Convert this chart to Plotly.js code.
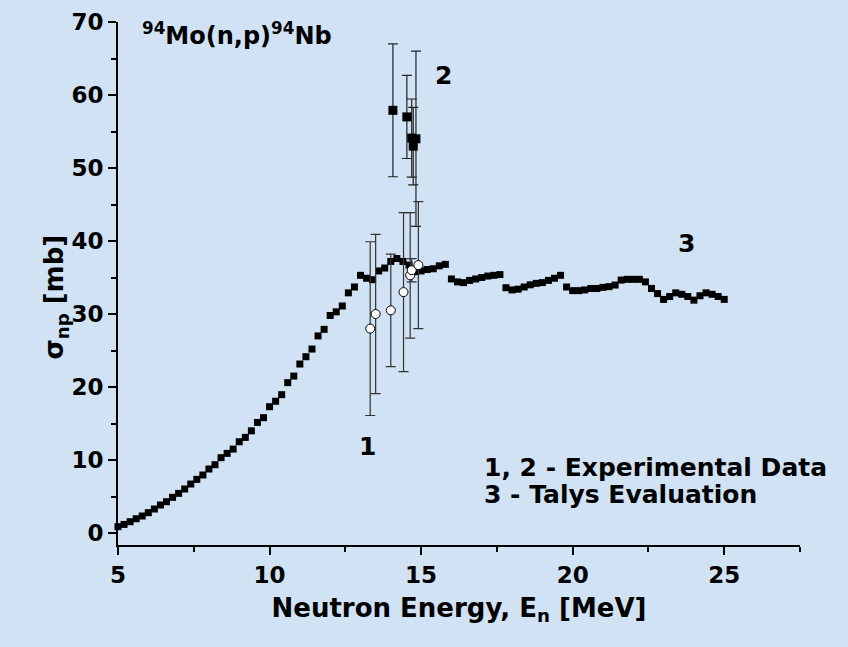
<!DOCTYPE html>
<html>
<head>
<meta charset="utf-8">
<script src="https://cdn.plot.ly/plotly-3.0.1.min.js"></script>
<style>html,body{margin:0;padding:0;background:#d0e2f3;}</style>
</head>
<body>
<div id="chart" style="width:848px;height:647px;"></div>
<script>
// Talys evaluation (curve 3)
const talysE = [5.0,5.2,5.4,5.6,5.8,6.0,6.2,6.4,6.6,6.8,7.0,7.2,7.4,7.6,7.8,8.0,8.2,8.4,8.6,8.8,
  9.0,9.2,9.4,9.6,9.8,10.0,10.2,10.4,10.6,10.8,11.0,11.2,11.4,11.6,11.8,12.0,12.2,12.4,12.6,12.8,
  13.0,13.2,13.4,13.6,13.8,14.0,14.2,14.4,14.6,14.8,15.0,15.2,15.4,15.6,15.8,16.0,16.2,16.4,16.6,16.8,
  17.0,17.2,17.4,17.6,17.8,18.0,18.2,18.4,18.6,18.8,19.0,19.2,19.4,19.6,19.8,20.0,20.2,20.4,20.6,20.8,
  21.0,21.2,21.4,21.6,21.8,22.0,22.2,22.4,22.6,22.8,23.0,23.2,23.4,23.6,23.8,24.0,24.2,24.4,24.6,24.8,25.0];
const talysSigma = [0.87,1.18,1.55,1.96,2.33,2.79,3.29,3.84,4.29,4.89,5.43,6.03,6.71,7.35,7.95,8.77,9.36,10.32,10.91,11.5,
  12.5,13.1,14.0,15.15,15.8,17.3,18.05,18.95,20.6,21.5,23.15,24.15,25.2,27.0,27.9,29.8,30.3,31.1,32.9,33.7,
  35.3,34.9,34.7,35.9,36.3,37.2,37.6,37.2,36.7,35.8,35.9,36.1,36.2,36.6,36.8,34.8,34.4,34.3,34.6,34.8,
  35.0,35.2,35.3,35.4,33.6,33.3,33.4,33.7,34.0,34.2,34.3,34.6,34.9,35.3,33.7,33.2,33.2,33.3,33.5,33.5,
  33.65,33.75,33.97,34.65,34.75,34.75,34.75,34.4,33.5,32.8,32.0,32.4,32.9,32.7,32.4,31.9,32.5,32.9,32.7,32.4,32.0];

// Experimental data 1 (open circles)
const exp1E = [13.32,13.5,14.0,14.42,14.64,14.69,14.91];
const exp1Sigma = [28.0,30.0,30.5,33.0,35.3,36.0,36.7];
const exp1Err = [11.9,10.9,7.7,10.9,8.6,1.6,8.7];

// Experimental data 2 (solid squares)
const exp2E = [14.07,14.53,14.69,14.74,14.83];
const exp2Sigma = [57.9,57.0,54.1,53.0,54.0];
const exp2Err = [9.1,5.7,5.35,5.3,12.0];

const FONT = '"DejaVu Sans", Arial, sans-serif';
const bold = (s) => ({family: FONT, size: s, color: '#000', weight: 700});

const traces = [
  {x: talysE, y: talysSigma, type: 'scatter', mode: 'markers', name: '3 - Talys Evaluation',
   cliponaxis: false,
   marker: {symbol: 'square', size: 7, color: '#000'}},
  {x: exp2E, y: exp2Sigma, type: 'scatter', mode: 'markers', name: '2',
   cliponaxis: false,
   error_y: {type: 'data', array: exp2Err, visible: true, color: '#222', thickness: 1.2, width: 5},
   marker: {symbol: 'square', size: 9, color: '#000'}},
  {x: exp1E, y: exp1Sigma, type: 'scatter', mode: 'markers', name: '1',
   cliponaxis: false,
   error_y: {type: 'data', array: exp1Err, visible: true, color: '#333', thickness: 1.2, width: 5},
   marker: {symbol: 'circle', size: 9, color: '#fff', line: {color: '#000', width: 1}}}
];

const layout = {
  width: 848, height: 647,
  paper_bgcolor: '#d0e2f3', plot_bgcolor: '#d0e2f3',
  margin: {l: 118, r: 48, t: 22, b: 102},
  showlegend: false,
  title: {text: '<sup>94</sup>Mo(n,p)<sup>94</sup>Nb', font: bold(24),
          x: 142/848, xanchor: 'left', xref: 'container', y: 1 - 36/647, yanchor: 'middle', yref: 'container'},
  xaxis: {
    range: [5, 27.5], showgrid: false, zeroline: false,
    showline: true, linecolor: '#000', linewidth: 2,
    ticks: 'outside', ticklen: 8, tickwidth: 2, tickcolor: '#000',
    tickvals: [5, 10, 15, 20, 25],
    minor: {tickvals: [7.5, 12.5, 17.5, 22.5, 27.5], ticks: 'outside', ticklen: 5, tickwidth: 2, tickcolor: '#000'},
    tickfont: bold(23),
    title: {text: 'Neutron Energy, E<sub>n</sub> [MeV]', font: bold(26), standoff: 12}
  },
  yaxis: {
    range: [-1.64, 70], showgrid: false, zeroline: false,
    showline: true, linecolor: '#000', linewidth: 2,
    ticks: 'outside', ticklen: 8, tickwidth: 2, tickcolor: '#000',
    tickvals: [0, 10, 20, 30, 40, 50, 60, 70],
    minor: {tickvals: [5, 15, 25, 35, 45, 55, 65], ticks: 'outside', ticklen: 5, tickwidth: 2, tickcolor: '#000'},
    tickfont: bold(23),
    title: {text: ''}
  },
  annotations: [
    {x: -0.119, y: 32.3, xref: 'paper', yref: 'y', text: 'σ<sub>np</sub> [mb]', textangle: -90,
     showarrow: false, font: bold(26)},
    {x: 13.22, y: 11.9, xref: 'x', yref: 'y', text: '1', showarrow: false, font: bold(25)},
    {x: 15.73, y: 62.7, xref: 'x', yref: 'y', text: '2', showarrow: false, font: bold(25)},
    {x: 23.75, y: 39.7, xref: 'x', yref: 'y', text: '3', showarrow: false, font: bold(25)},
    {x: 17.01, y: 9.0, xref: 'x', yref: 'y', xanchor: 'left', text: '1, 2 - Experimental Data', showarrow: false, font: bold(25)},
    {x: 17.01, y: 5.3, xref: 'x', yref: 'y', xanchor: 'left', text: '3 - Talys Evaluation', showarrow: false, font: bold(25)}
  ]
};

Plotly.newPlot('chart', traces, layout, {displayModeBar: false, staticPlot: true});
</script>
</body>
</html>
